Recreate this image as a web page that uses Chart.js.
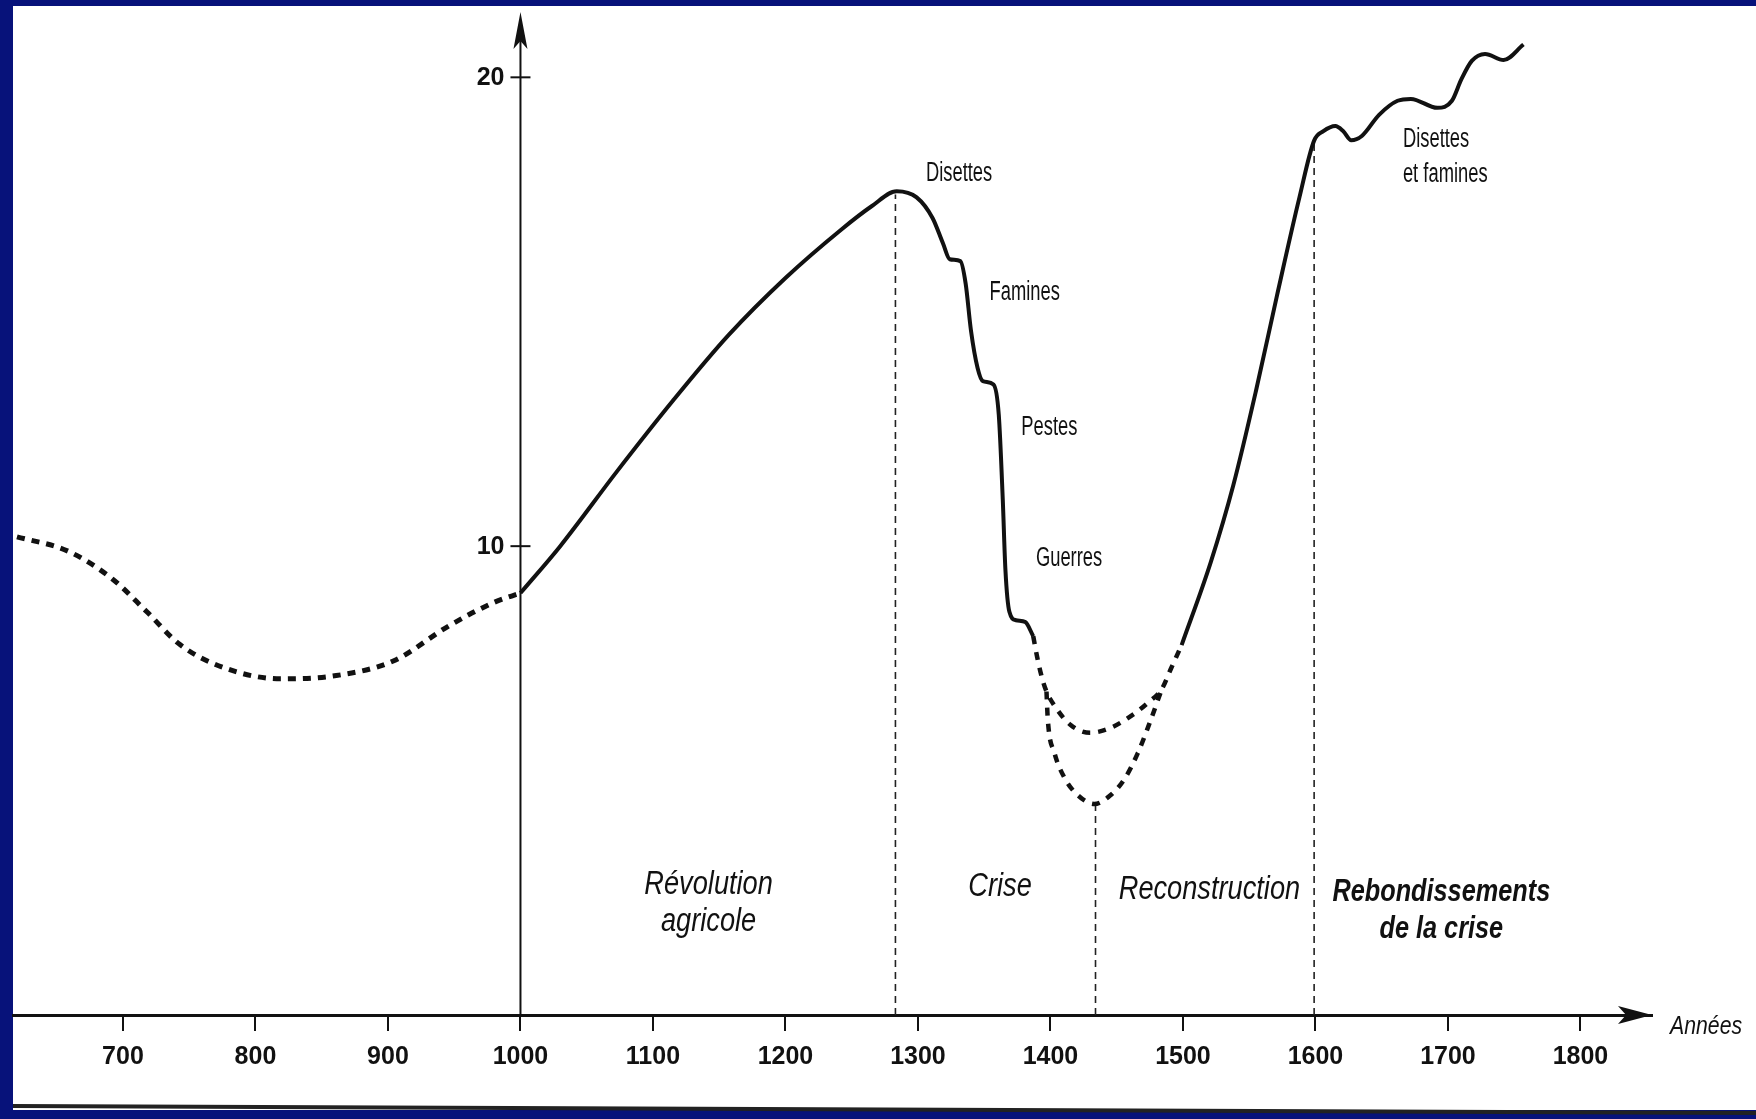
<!DOCTYPE html>
<html>
<head>
<meta charset="utf-8">
<script src="https://cdn.jsdelivr.net/npm/chart.js@4"></script>
<style>
  html, body { margin: 0; padding: 0; background: #07127a; }
  #wrap { width: 1756px; height: 1119px; }
</style>
</head>
<body>
<div id="wrap"><canvas id="myChart"></canvas></div>
<script>
// Datos: población (millones) a lo largo de los siglos
const xTicks = [700, 800, 900, 1000, 1100, 1200, 1300, 1400, 1500, 1600, 1700, 1800];
const yTicks = [10, 20];

// Tramo incierto antes del año 1000 (punteado)
const earlyYears = [620, 658, 692, 718, 743, 777, 819, 861, 904, 946, 980, 1000];
const earlyVals  = [10.2, 9.9, 9.3, 8.6, 7.9, 7.4, 7.17, 7.24, 7.55, 8.3, 8.8, 9.0];

// Révolution agricole + crise (trazo continuo)
const riseYears = [1000, 1030, 1073, 1115, 1157, 1200, 1242, 1265, 1284, 1299, 1311, 1319, 1324, 1332, 1336, 1340, 1345, 1349, 1357, 1361, 1364, 1366, 1369, 1374, 1381, 1387];
const riseVals  = [9.0, 10.0, 11.6, 13.1, 14.5, 15.72, 16.75, 17.25, 17.57, 17.44, 17.0, 16.45, 16.12, 16.08, 15.6, 14.6, 13.8, 13.52, 13.45, 12.8, 11.0, 9.5, 8.6, 8.42, 8.38, 8.08];

// Fondo de la crisis: dos hipótesis (punteado)
const highYears = [1387, 1390, 1394, 1397, 1403, 1415, 1430, 1445, 1462, 1474, 1484, 1491, 1499];
const highVals  = [8.08, 7.63, 7.15, 6.9, 6.6, 6.19, 6.02, 6.12, 6.4, 6.67, 6.95, 7.39, 7.89];
const lowYears  = [1397, 1398, 1403, 1411, 1421, 1433, 1445, 1456, 1466, 1475, 1484];
const lowVals   = [6.9, 6.3, 5.59, 5.04, 4.68, 4.5, 4.68, 5.04, 5.59, 6.24, 6.95];

// Reconstruction + rebondissements (trazo continuo)
const lateYears = [1499, 1521, 1538, 1555, 1571, 1588, 1599, 1606, 1615, 1621, 1627, 1635, 1648, 1662, 1672, 1692, 1703, 1710, 1718, 1728, 1742, 1757];
const lateVals  = [7.89, 9.66, 11.3, 13.3, 15.35, 17.45, 18.65, 18.85, 18.96, 18.85, 18.66, 18.75, 19.2, 19.5, 19.54, 19.35, 19.5, 19.95, 20.35, 20.5, 20.37, 20.7];

// Líneas verticales punteadas (año, valor superior)
const markYears = [1283, 1434, 1599];
const markTops  = [17.5, 4.5, 18.6];

// Textos
const notes = [
  { text: 'Disettes', x: 1306, y: 17.94 },
  { text: 'Famines', x: 1354, y: 15.42 },
  { text: 'Pestes', x: 1378, y: 12.53 },
  { text: 'Guerres', x: 1389, y: 9.73 },
  { text: 'Disettes', x: 1666, y: 18.67 },
  { text: 'et famines', x: 1666, y: 17.93 }
];
const periods = [
  { text: 'Révolution', x: 1142, y: 2.78, bold: false },
  { text: 'agricole', x: 1142, y: 1.99, bold: false },
  { text: 'Crise', x: 1362, y: 2.73, bold: false },
  { text: 'Reconstruction', x: 1520, y: 2.68, bold: false },
  { text: 'Rebondissements', x: 1695, y: 2.61, bold: true },
  { text: 'de la crise', x: 1695, y: 1.82, bold: true }
];

const sans = "'Liberation Sans', Arial, sans-serif";

function pts(xs, ys) {
  return xs.map((v, i) => ({ x: v, y: ys[i] }));
}

// texto estrechado (imitando una tipografía condensada)
function narrowText(ctx, text, px, py, sx) {
  ctx.save();
  ctx.translate(px, py);
  ctx.scale(sx, 1);
  ctx.fillText(text, 0, 0);
  ctx.restore();
}

const datasets = [
  { data: pts(earlyYears, earlyVals), borderWidth: 5, borderDash: [8, 7] },
  { data: pts(riseYears, riseVals), borderWidth: 4 },
  { data: pts(highYears, highVals), borderWidth: 4.5, borderDash: [8, 8] },
  { data: pts(lowYears, lowVals), borderWidth: 4.5, borderDash: [8, 8] },
  { data: pts(lateYears, lateVals), borderWidth: 4 }
].map(d => Object.assign(d, {
  borderColor: '#111',
  cubicInterpolationMode: 'monotone',
  pointRadius: 0,
  fill: false
}));

markYears.forEach((yr, i) => {
  datasets.push({
    data: [{ x: yr, y: 0 }, { x: yr, y: markTops[i] }],
    borderColor: '#222',
    borderWidth: 1.6,
    borderDash: [7, 5],
    pointRadius: 0,
    order: 5
  });
});

// Dibujo de fondo, ejes con flechas y textos
const decor = {
  id: 'decor',
  beforeDraw(chart) {
    const { ctx, width, height } = chart;
    ctx.save();
    ctx.fillStyle = '#07127a';
    ctx.fillRect(0, 0, width, height);
    ctx.fillStyle = '#ffffff';
    ctx.fillRect(13, 6, width - 13, 1104);
    ctx.strokeStyle = '#222';
    ctx.lineWidth = 4;
    ctx.beginPath();
    ctx.moveTo(13, 1106);
    ctx.lineTo(width, 1113);
    ctx.stroke();
    ctx.restore();
  },
  afterDraw(chart) {
    const { ctx, chartArea: a, scales: { x, y } } = chart;
    const ax = x.getPixelForValue(1000);
    const bottom = y.getPixelForValue(0);
    ctx.save();
    ctx.strokeStyle = '#111';
    ctx.fillStyle = '#111';

    // eje vertical
    ctx.lineWidth = 2;
    ctx.beginPath();
    ctx.moveTo(ax, bottom);
    ctx.lineTo(ax, a.top + 20);
    ctx.stroke();
    ctx.beginPath();
    ctx.moveTo(ax, a.top + 5);
    ctx.lineTo(ax - 7, a.top + 42);
    ctx.lineTo(ax, a.top + 34);
    ctx.lineTo(ax + 7, a.top + 42);
    ctx.closePath();
    ctx.fill();

    ctx.font = 'bold 25px ' + sans;
    ctx.textAlign = 'right';
    ctx.textBaseline = 'middle';
    yTicks.forEach(v => {
      const py = y.getPixelForValue(v);
      ctx.beginPath();
      ctx.moveTo(ax - 10, py);
      ctx.lineTo(ax + 10, py);
      ctx.stroke();
      ctx.fillText(String(v), ax - 16, py + 1);
    });

    // flecha del eje horizontal
    ctx.beginPath();
    ctx.moveTo(a.right, bottom);
    ctx.lineTo(a.right - 34, bottom - 9);
    ctx.lineTo(a.right - 26, bottom);
    ctx.lineTo(a.right - 34, bottom + 9);
    ctx.closePath();
    ctx.fill();
    ctx.font = 'italic 25px ' + sans;
    ctx.textAlign = 'left';
    narrowText(ctx, 'Années', a.right + 18, bottom + 12, 0.85);

    // anotaciones
    ctx.font = '27px ' + sans;
    notes.forEach(n => {
      narrowText(ctx, n.text, x.getPixelForValue(n.x), y.getPixelForValue(n.y), 0.68);
    });
    ctx.textAlign = 'center';
    periods.forEach(p => {
      ctx.font = (p.bold ? 'italic bold 32px ' : 'italic 34px ') + sans;
      narrowText(ctx, p.text, x.getPixelForValue(p.x), y.getPixelForValue(p.y), p.bold ? 0.79 : 0.8);
    });
    ctx.restore();
  }
};

const ctx = document.getElementById('myChart').getContext('2d');

const chart = new Chart(ctx, {
  type: 'line',
  data: { datasets: datasets },
  options: {
    responsive: true,
    maintainAspectRatio: false,
    animation: false,
    layout: { padding: { left: 13, right: 104, top: 7, bottom: 36 } },
    plugins: { legend: { display: false }, tooltip: { enabled: false } },
    scales: {
      x: {
        type: 'linear',
        min: 617,
        max: 1854,
        afterBuildTicks: s => { s.ticks = xTicks.map(v => ({ value: v })); },
        grid: { drawOnChartArea: false, tickLength: 16, color: '#111', lineWidth: 2 },
        border: { color: '#111', width: 3 },
        ticks: {
          autoSkip: false,
          maxRotation: 0,
          padding: 11,
          color: '#111',
          font: { family: sans, size: 25, weight: 'bold' },
          callback: v => String(v)
        }
      },
      y: {
        type: 'linear',
        display: false,
        min: 0,
        max: 21.5
      }
    }
  },
  plugins: [decor]
});
</script>
</body>
</html>
